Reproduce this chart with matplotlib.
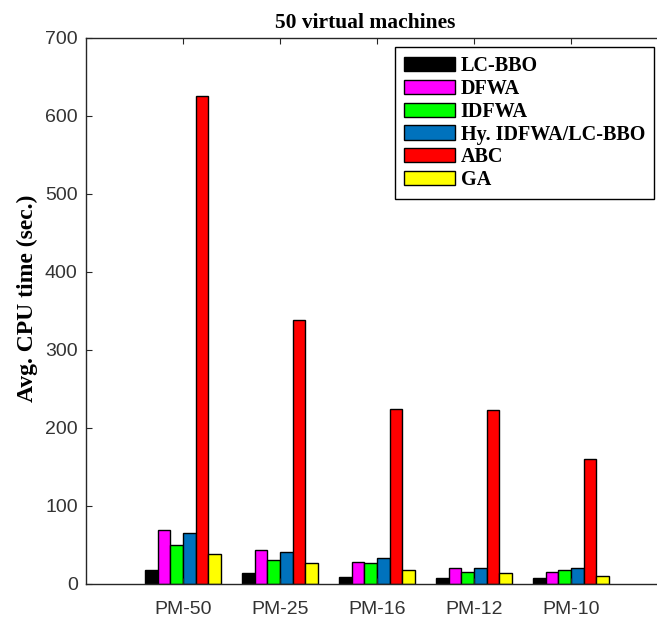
import numpy as np
import matplotlib
matplotlib.use('Agg')
import matplotlib.pyplot as plt
from matplotlib.patches import Rectangle
from matplotlib.legend_handler import HandlerPatch

# average CPU time (sec.) per physical-machine setting, 50 VMs
groups = ['PM-50', 'PM-25', 'PM-16', 'PM-12', 'PM-10']
methods = ['LC-BBO', 'DFWA', 'IDFWA', 'Hy. IDFWA/LC-BBO', 'ABC', 'GA']
lc_bbo = [18, 14, 9.5, 7.5, 7.5]
dfwa = [69, 43.5, 28.5, 20, 16]
idfwa = [50, 31, 26.5, 16, 18]
hybrid = [65, 41, 33, 20, 20]
abc = [626, 338, 225, 223, 160]
ga = [39, 26.5, 18, 13.5, 10.5]
colors = ['#000000', '#FF00FF', '#00FF00', '#0072BD', '#FF0000', '#FFFF00']

series = [lc_bbo, dfwa, idfwa, hybrid, abc, ga]


def swatch(legend, orig_handle, xdescent, ydescent, width, height, fontsize):
    # colour box sits at the right end of the handle slot, leaving a wider left margin
    bw = 1.7 * fontsize
    return Rectangle((-xdescent + width - bw, -ydescent), bw, height)


fig = plt.figure(figsize=(6.57, 6.23), dpi=100)
ax = fig.add_axes([86 / 657, 39 / 623, 582 / 657, 546 / 623])

x = np.arange(1, len(groups) + 1)
w = 0.13
for i, (vals, name, c) in enumerate(zip(series, methods, colors)):
    ax.bar(x + (i - 2.5) * w, vals, w, color=c, edgecolor='black',
           linewidth=1.0, label=name)

ax.set_xlim(0, 6)
ax.set_ylim(0, 700)
ax.set_xticks(x)
ax.set_xticklabels(groups)
ax.set_yticks(np.arange(0, 701, 100))

for s in ax.spines.values():
    s.set_color('#262626')
    s.set_linewidth(1.0)
ax.tick_params(direction='in', length=4, width=0.8, color='#262626',
               top=True, labelsize=14, labelcolor='#333333')
ax.tick_params(axis='x', pad=12)
ax.tick_params(axis='y', pad=6)
for lbl in ax.get_xticklabels() + ax.get_yticklabels():
    lbl.set_family('Liberation Sans')

ax.set_title('50 virtual machines', family='Liberation Serif',
             fontweight='bold', fontsize=15.5, pad=7, x=0.479)
ax.set_ylabel('Avg. CPU time (sec.)', family='Liberation Serif',
              fontweight='bold', fontsize=17)
ax.yaxis.set_label_coords(-0.083, 0.524)

leg = ax.legend(loc='upper right', bbox_to_anchor=(654 / 657, 1 - 47 / 623),
                bbox_transform=fig.transFigure, fancybox=False,
                edgecolor='black', framealpha=1, handlelength=2.5,
                handleheight=0.7, handletextpad=0.3, labelspacing=0.14,
                borderpad=0.45, borderaxespad=0,
                handler_map={Rectangle: HandlerPatch(patch_func=swatch)},
                prop={'family': 'Liberation Serif', 'weight': 'bold', 'size': 14.5})
leg.get_frame().set_linewidth(1.0)

fig.savefig('out.png', dpi=100)
